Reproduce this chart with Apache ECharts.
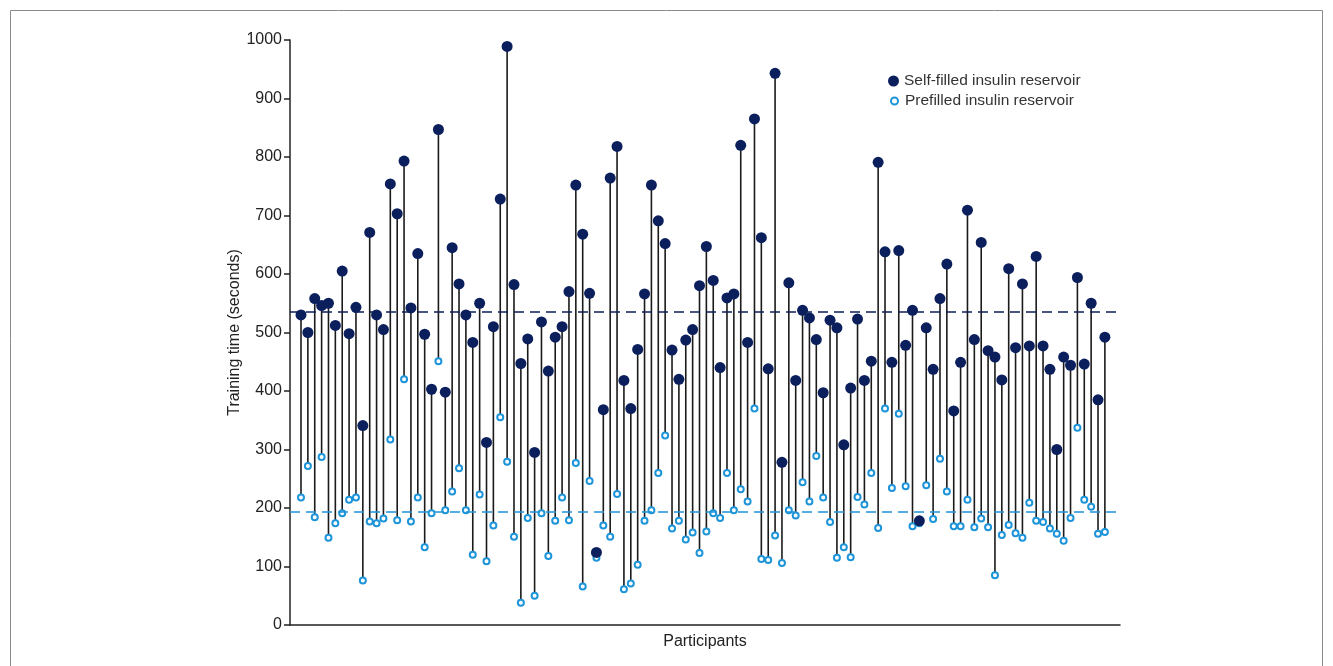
<!DOCTYPE html>
<html>
<head>
<meta charset="utf-8">
<title>Training time</title>
<script src="https://cdn.jsdelivr.net/npm/echarts@6/dist/echarts.min.js"></script>
<style>
  html, body { margin: 0; padding: 0; background: #fff; }
  #main { width: 1333px; height: 666px; }
</style>
</head>
<body>
<div id="main"></div>
<script>
// training time per participant (seconds)
var selfFilled = [530,500,558,546,550,512,605,498,543,341, 671,530,505,754,703,793,542,635,497,403,
  847,398,645,583,530,483,550,312,510,728, 989,582,447,489,295,518,434,492,510,570,
  752,668,567,124,368,764,818,418,370,471, 566,752,691,652,470,420,487,505,580,647,
  589,440,559,566,820,483,865,662,438,943, 278,585,418,538,525,488,397,521,508,308,
  405,523,418,451,791,638,449,640,478,538, 178,508,437,558,617,366,449,709,488,654,
  469,458,419,609,474,583,477,630,477,437, 300,458,444,594,446,550,385,492];

var prefilled = [218,272,184,287,149,174,191,214,218,76, 177,174,182,317,179,420,177,218,133,191,
  451,196,228,268,196,120,223,109,170,355, 279,151,38,183,50,191,118,178,218,179,
  277,66,246,115,170,151,224,61,71,103, 178,196,260,324,165,178,146,158,123,160,
  191,183,260,196,232,211,370,113,111,153, 106,196,187,244,211,289,218,176,115,133,
  116,219,206,260,166,370,234,361,237,169, 174,239,181,284,228,169,169,214,167,182,
  167,85,154,171,157,149,209,178,176,165, 156,144,183,337,214,202,156,159];

// dashed reference lines (means)
var meanLines = [536, 193];
var yTicks = [0, 1000, 100];

var seriesNames = ['Self-filled insulin reservoir', 'Prefilled insulin reservoir'];

var navy = '#0b1f5c';
var lightBlue = '#1e94d9';

var selfData = selfFilled.map(function (v, i) { return [i, v]; });
var preData = prefilled.map(function (v, i) { return [i, v]; });
var stemData = selfFilled.map(function (v, i) { return [i, prefilled[i], v]; });

var chart = echarts.init(document.getElementById('main'));

chart.setOption({
  backgroundColor: '#fff',
  animation: false,
  textStyle: { fontFamily: 'Liberation Sans, Arial, sans-serif' },
  graphic: [{
    type: 'rect',
    shape: { x: 10.5, y: 10.5, width: 1312, height: 670 },
    style: { fill: 'none', stroke: '#8a8a8a', lineWidth: 1 },
    silent: true
  }],
  grid: { left: 290, right: 213, top: 40, bottom: 41 },
  // two legends so the markers keep their own sizes
  legend: [{
    orient: 'vertical',
    left: 883,
    top: 68,
    itemWidth: 11,
    itemHeight: 11,
    textStyle: { fontSize: 15.5, color: '#333' },
    data: [{ name: seriesNames[0], icon: 'circle' }]
  }, {
    orient: 'vertical',
    left: 885,
    top: 88,
    itemWidth: 7,
    itemHeight: 7,
    textStyle: { fontSize: 15.5, color: '#333', padding: [0, 0, 0, 2] },
    data: [{ name: seriesNames[1], icon: 'circle' }]
  }],
  xAxis: {
    type: 'value',
    min: -1.6,
    max: 119.2,
    name: 'Participants',
    nameLocation: 'middle',
    nameGap: 9,
    nameTextStyle: { fontSize: 16, color: '#222' },
    axisLine: { lineStyle: { color: '#222', width: 1.5 } },
    axisTick: { show: false },
    axisLabel: { show: false },
    splitLine: { show: false }
  },
  yAxis: {
    type: 'value',
    min: yTicks[0],
    max: yTicks[1],
    interval: yTicks[2],
    name: 'Training time (seconds)',
    nameLocation: 'middle',
    nameGap: 47,
    nameMoveOverlap: false,
    nameTextStyle: { fontSize: 16, color: '#222' },
    axisLine: { show: true, onZero: false, lineStyle: { color: '#222', width: 1.5 } },
    axisTick: { show: true, length: 6, lineStyle: { color: '#222', width: 1.5 } },
    axisLabel: { fontSize: 16, color: '#222', margin: 8, formatter: function (v) { return String(v); } },
    splitLine: { show: false }
  },
  series: [
    {
      type: 'custom',
      name: 'stems',
      z: 1,
      silent: true,
      data: stemData,
      encode: { x: 0, y: [1, 2] },
      renderItem: function (params, api) {
        var a = api.coord([api.value(0), api.value(1)]);
        var b = api.coord([api.value(0), api.value(2)]);
        return {
          type: 'line',
          shape: { x1: a[0], y1: a[1], x2: b[0], y2: b[1] },
          style: { stroke: '#1a1a1a', lineWidth: 1.6 }
        };
      },
      markLine: {
        silent: true,
        symbol: 'none',
        label: { show: false },
        data: [
          { yAxis: meanLines[0], lineStyle: { color: navy, type: [10, 6], width: 1.6 } },
          { yAxis: meanLines[1], lineStyle: { color: lightBlue, type: [10, 6], width: 1.6 } }
        ]
      }
    },
    {
      type: 'scatter',
      name: seriesNames[1],
      z: 3,
      symbol: 'circle',
      symbolSize: 6,
      itemStyle: { color: '#fff', borderColor: lightBlue, borderWidth: 2, opacity: 1 },
      data: preData
    },
    {
      type: 'scatter',
      name: seriesNames[0],
      z: 4,
      symbol: 'circle',
      symbolSize: 11,
      itemStyle: { color: navy, opacity: 1 },
      data: selfData
    }
  ]
});
</script>
</body>
</html>
